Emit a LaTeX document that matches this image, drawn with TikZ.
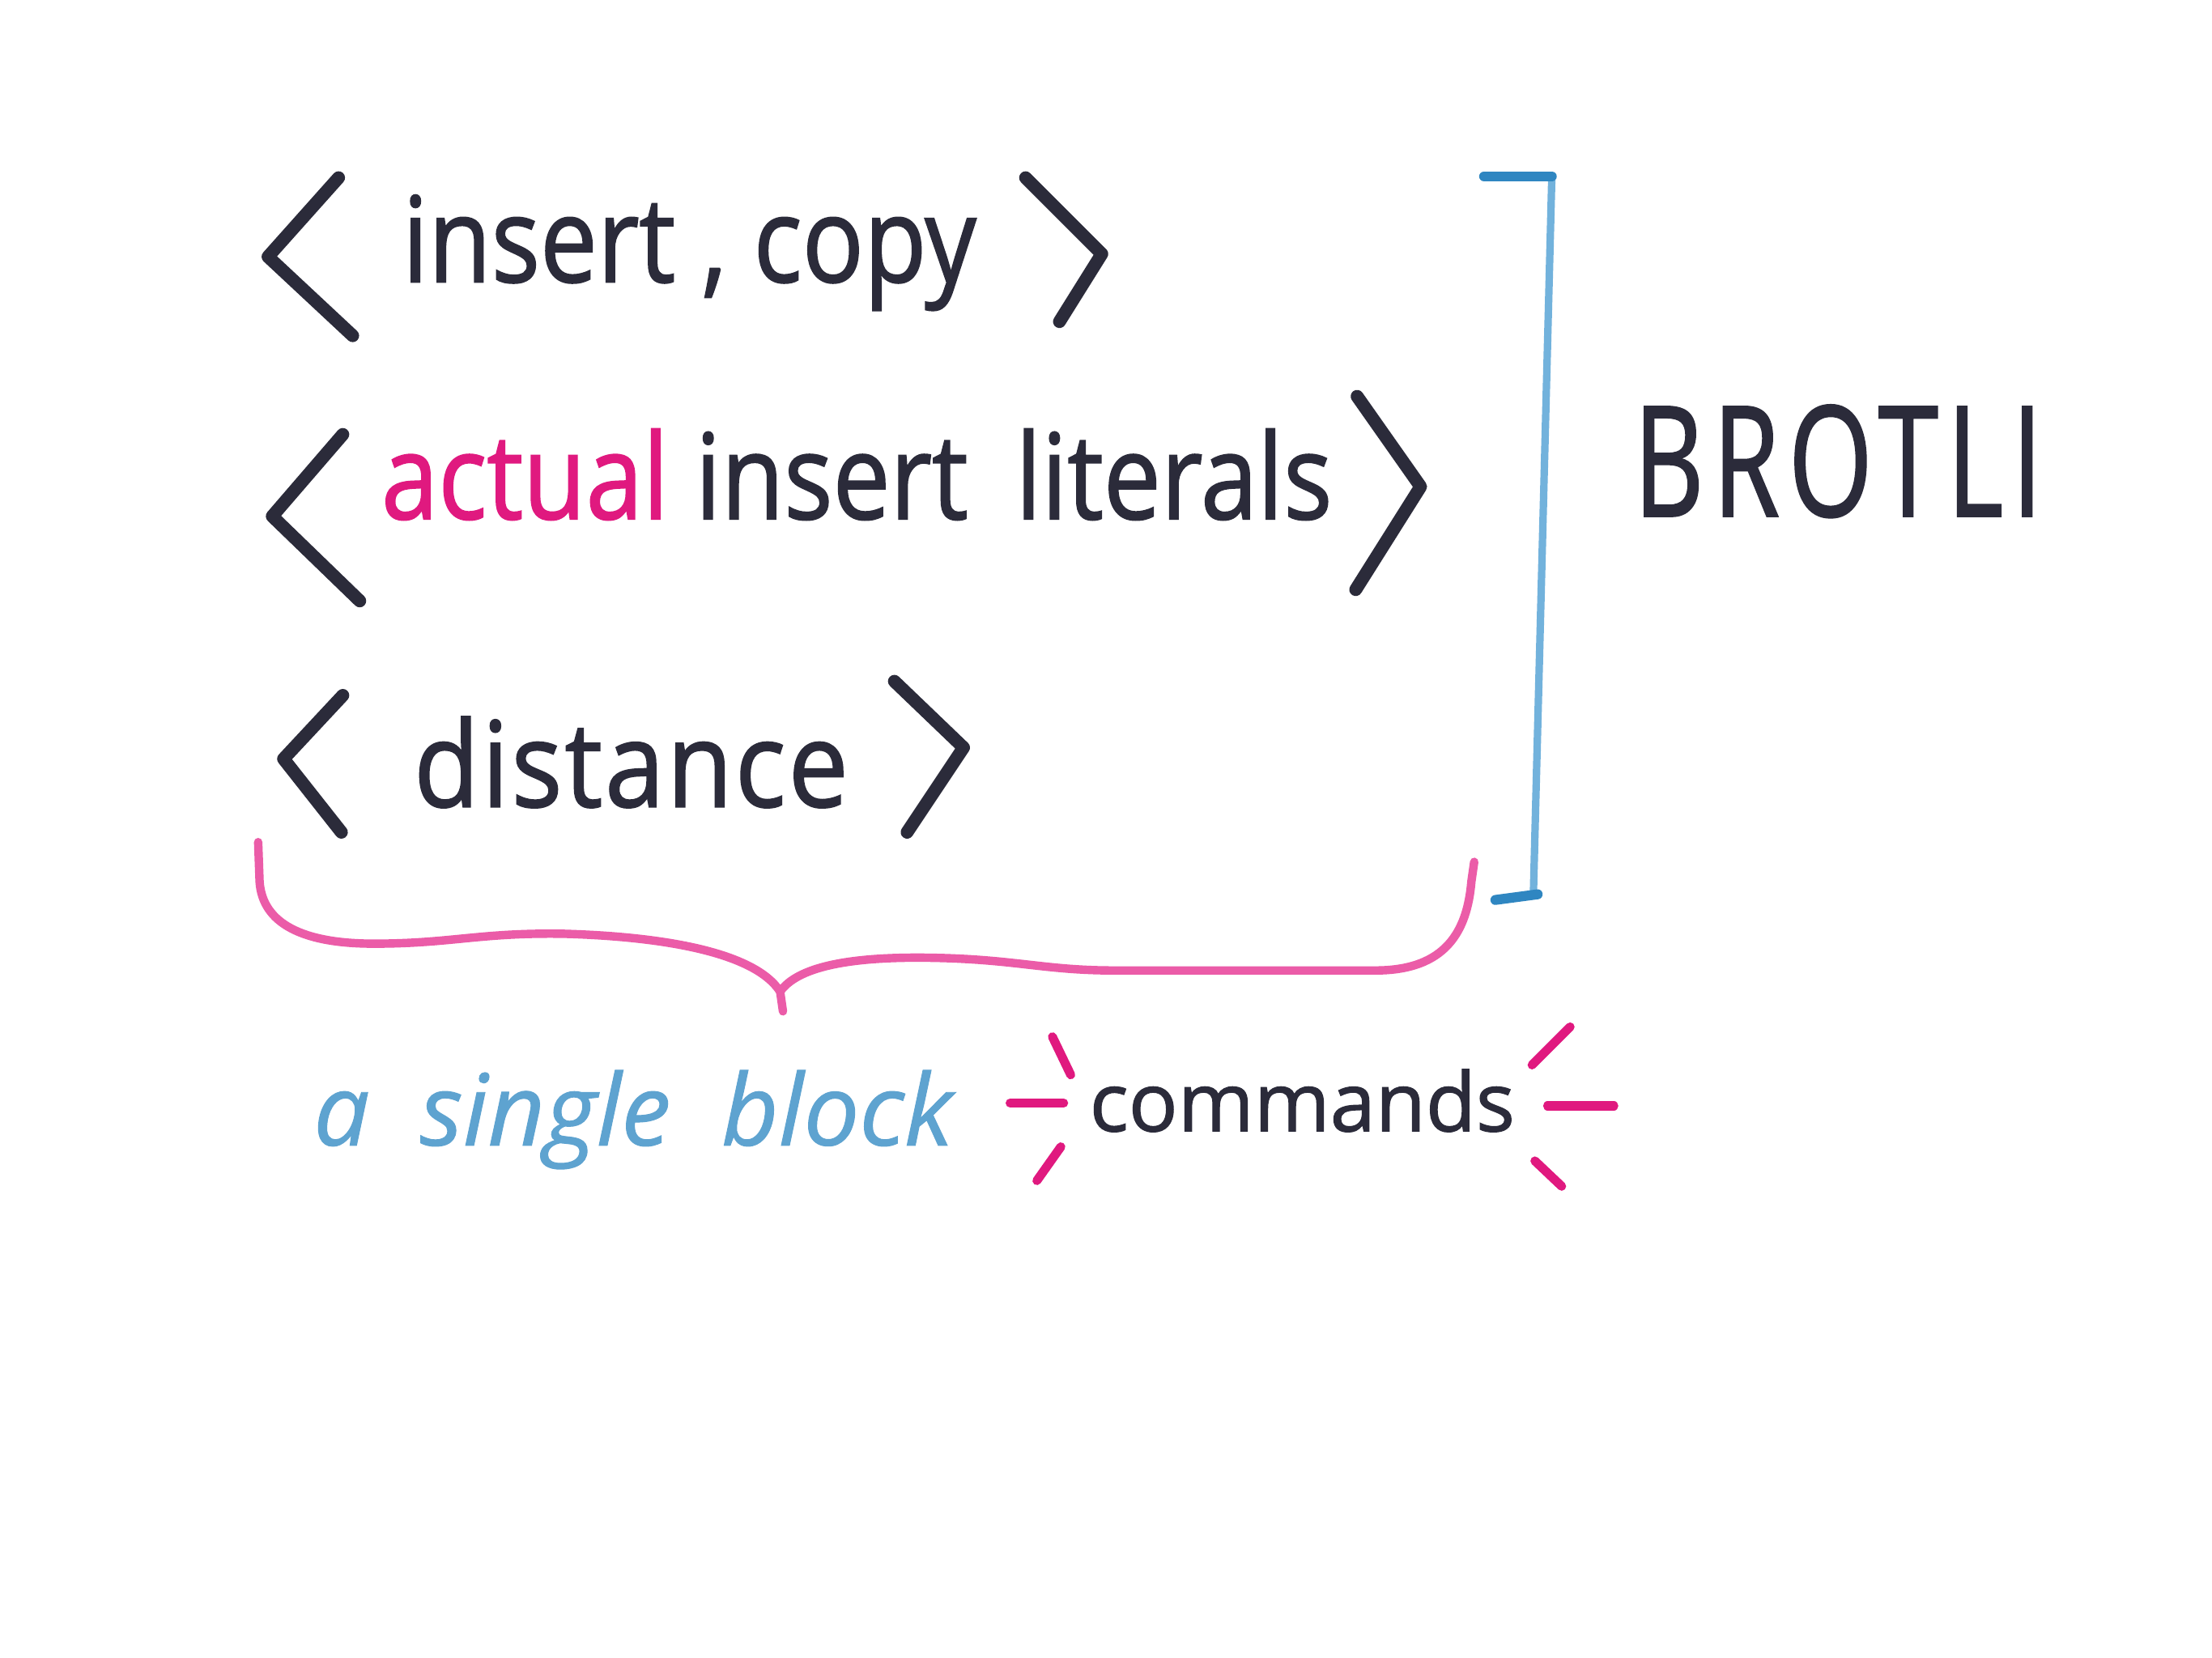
\documentclass[tikz,border=0pt]{standalone}
\usepackage{fontspec}
\setmainfont{Open Sans}
\newfontfamily\hand[FakeStretch=0.86,FakeBold=1.2]{Open Sans}
\newfontfamily\handwide[FakeStretch=0.9,FakeBold=1.2,LetterSpace=2]{Open Sans}
\newfontfamily\handsmall[FakeStretch=1.0,FakeBold=1.2]{Open Sans}
\newfontfamily\handcaps[FakeStretch=0.7,LetterSpace=6,FakeBold=1.2]{Open Sans}
\newfontfamily\handit[FakeStretch=1.0,FakeBold=0.8]{Open Sans}
\definecolor{inkc}{HTML}{2B2B3A}
\definecolor{pinkt}{HTML}{E0197F}
\definecolor{pinkb}{HTML}{EB5CA8}
\definecolor{bluel}{HTML}{72B2DC}
\definecolor{blued}{HTML}{2F86C1}
\definecolor{bluet}{HTML}{5EA3D0}
\begin{document}
\begin{tikzpicture}[x=0.02cm,y=-0.02cm,
  ink/.style={draw=inkc,line width=5.2pt,line cap=round,line join=round},
  bracestroke/.style={draw=pinkb,line width=3.4pt,line cap=round,line join=round},
  ray/.style={draw=pinkt,line width=3.6pt,line cap=round},
  bluestroke/.style={draw=bluel,line width=3pt,line cap=round,line join=round},
  bluetab/.style={draw=blued,line width=4pt,line cap=round},
  rowtext/.style={anchor=base west,inner sep=0pt,text=inkc,font=\hand\fontsize{48}{48}\selectfont}]
\useasboundingbox (0,0) rectangle (1568,1175);
\fill[white] (0,0) rectangle (1568,1175);

% row 1
\draw[ink] (240,126) -- (190,182) -- (250,238);
\node[rowtext] (r1) at (285,200) {insert , copy};
\draw[ink] (727,126) -- (781,180) -- (751,228);

% row 2
\draw[ink] (243,308) -- (193,366) -- (255,426);
\node[rowtext] (r2) at (270,368) {\textcolor{pinkt}{actual} insert\hspace{0.4em}literals};
\draw[ink] (962,281) -- (1007,345) -- (961,418);

% row 3
\draw[ink] (243,493) -- (201,538) -- (242,590);
\node[rowtext,font=\handwide\fontsize{48}{48}\selectfont] (r3) at (293,572) {distance};
\draw[ink] (634,483) -- (683,530) -- (643,590);

% blue bracket
\draw[bluestroke] (1100,126) -- (1087,632);
\draw[bluetab] (1052,125) -- (1100,125);
\draw[bluetab] (1060,638) -- (1090,634);

% BROTLI
\node[anchor=base west,inner sep=0pt,text=inkc,font=\handcaps\fontsize{62}{62}\selectfont] (brotli) at (1158,366) {BROTLI};

% pink brace
\draw[bracestroke] (183,597) -- (184,625) .. controls (186,655) and (215,669) .. (265,669)
  .. controls (320,669) and (340,661) .. (400,662) .. controls (470,664) and (535,675) .. (553,703) -- (555,717);
\draw[bracestroke] (553,703) .. controls (565,686) and (600,678) .. (660,679)
  .. controls (720,680) and (740,688) .. (790,688) -- (975,688)
  .. controls (1025,688) and (1040,660) .. (1043,625) -- (1045,611);

% a single block
\node[anchor=base west,inner sep=0pt,text=bluet,font=\handit\itshape\fontsize{40}{40}\selectfont] (blk) at (222,812) {a\hspace{0.25em} single\hspace{0.25em} block};

% commands with rays
\node[anchor=base west,inner sep=0pt,text=inkc,font=\handsmall\fontsize{33}{33}\selectfont] (cmd) at (772,802) {commands};
\draw[ray] (716,782) -- (754,782);
\draw[ray] (746,735) -- (759,762);
\draw[ray] (752,813) -- (735,837);
\draw[ray] (1097,784) -- (1144,784);
\draw[ray] (1113,728) -- (1086,755);
\draw[ray] (1088,823) -- (1107,841);
\end{tikzpicture}
\end{document}
